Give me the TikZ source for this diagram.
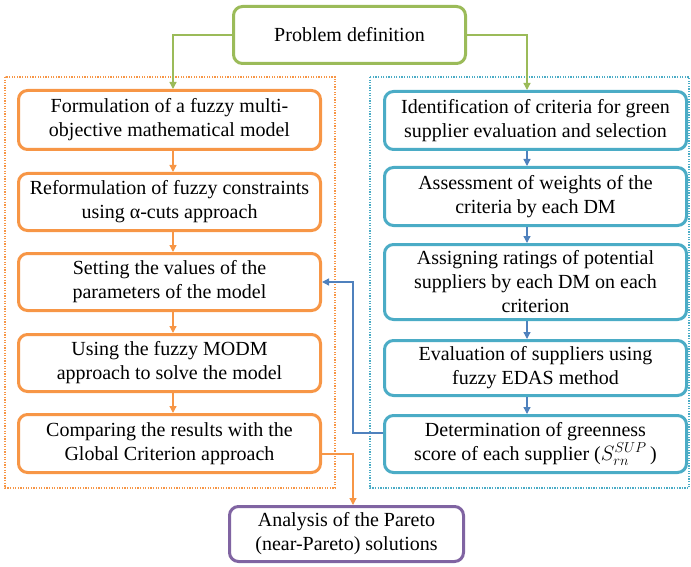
\documentclass[tikz,border=0pt]{standalone}
\usepackage{fontspec}
\setmainfont{Liberation Serif}
\usetikzlibrary{arrows.meta,calc}

\definecolor{cgreen}{HTML}{9BBB59}
\definecolor{corange}{HTML}{F79646}
\definecolor{ccyan}{HTML}{4BACC6}
\definecolor{cblue}{HTML}{4F81BD}
\definecolor{cpurple}{HTML}{8064A2}

\tikzset{
  stepbox/.style={draw, line width=3pt, rounded corners=9pt, align=center,
    inner sep=0pt, fill=white, font=\fontsize{20}{24}\selectfont},
  leftbox/.style={stepbox, draw=corange, minimum width=302pt},
  rightbox/.style={stepbox, draw=ccyan, minimum width=302pt},
  link/.style={line width=1.3pt, -{Triangle[length=7pt,width=7pt]}},
  frame/.style={line width=1.2pt, dash pattern=on 1.3pt off 1.3pt},
}

\begin{document}
\begin{tikzpicture}[x=1pt,y=-1pt]
\useasboundingbox (0,0) rectangle (691,567);

% dotted group frames
\draw[frame, corange] (5,77) rectangle (335,488);
\draw[frame, ccyan] (370,77) rectangle (689,488);

% guide lines for the connectors
\coordinate (lx) at (173,0);
\coordinate (rx) at (527,0);
\coordinate (fx) at (353,0);

% top
\node[stepbox, draw=cgreen, minimum width=232pt, minimum height=57pt] (pd) at (349.5,35) {Problem definition};

% left column
\node[leftbox, minimum height=59pt] (o1) at (169.5,120) {Formulation of a fuzzy multi-\\objective mathematical model};
\node[leftbox, minimum height=57pt] (o2) at (169.5,202) {Reformulation of fuzzy constraints\\using α-cuts approach};
\node[leftbox, minimum height=57pt] (o3) at (169.5,282) {Setting the values of the\\parameters of the model};
\node[leftbox, minimum height=57pt] (o4) at (169.5,363) {Using the fuzzy MODM\\approach to solve the model};
\node[leftbox, minimum height=58pt] (o5) at (169.5,443.5) {Comparing the results with the\\Global Criterion approach};

% right column
\node[rightbox, minimum height=58pt] (b1) at (535.5,120.5) {Identification of criteria for green\\supplier evaluation and selection};
\node[rightbox, minimum height=58pt] (b2) at (535.5,196.5) {Assessment of weights of the\\criteria by each DM};
\node[rightbox, minimum height=75pt] (b3) at (535.5,282) {Assigning ratings of potential\\suppliers by each DM on each\\criterion};
\node[rightbox, minimum height=55pt] (b4) at (535.5,368) {Evaluation of suppliers using\\fuzzy EDAS method};
\node[rightbox, minimum height=57pt] (b5) at (535.5,444) {Determination of greenness\\score of each supplier (\(S_{rn}^{SUP}\,\))};

% bottom
\node[stepbox, draw=cpurple, minimum width=234pt, minimum height=55pt] (pa) at (346.5,534) {Analysis of the Pareto\\(near-Pareto) solutions};

% connectors from the problem definition
\draw[link, cgreen] (pd.west) -| (lx |- o1.north);
\draw[link, cgreen] (pd.east) -| (rx |- b1.north);

% left chain
\draw[link, corange] (lx |- o1.south) -- (lx |- o2.north);
\draw[link, corange] (lx |- o2.south) -- (lx |- o3.north);
\draw[link, corange] (lx |- o3.south) -- (lx |- o4.north);
\draw[link, corange] (lx |- o4.south) -- (lx |- o5.north);

% right chain
\draw[link, cblue] (rx |- b1.south) -- (rx |- b2.north);
\draw[link, cblue] (rx |- b2.south) -- (rx |- b3.north);
\draw[link, cblue] (rx |- b3.south) -- (rx |- b4.north);
\draw[link, cblue] (rx |- b4.south) -- (rx |- b5.north);

% feedback of the greenness scores into the model parameters
\draw[link, cblue] ([yshift=11pt]b5.west) -| (fx |- o3.east) -- (o3.east);

% results to the Pareto analysis
\draw[link, corange] ([yshift=-10.5pt]o5.east) -| (fx |- pa.north);
\end{tikzpicture}
\end{document}
